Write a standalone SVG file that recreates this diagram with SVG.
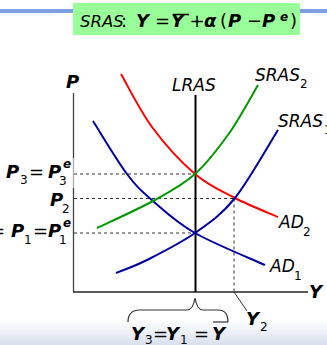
<svg xmlns="http://www.w3.org/2000/svg" width="327" height="345" viewBox="0 0 327 345">
<defs>
<linearGradient id="bg" x1="0" y1="0" x2="0" y2="1">
<stop offset="0" stop-color="#ffffff"/>
<stop offset="1" stop-color="#d8e0ed"/>
</linearGradient>
</defs>
<style>
text{font-family:"DejaVu Sans","Liberation Sans",sans-serif;fill:#000}
.bi{font-weight:bold;font-style:italic;font-size:18px}
.it{font-style:italic;font-size:17px}
.n{font-size:18px}
.sub{font-size:12px}
.sup{font-size:12px;font-weight:bold;font-style:italic}
.curve{fill:none;stroke-width:2}
.dash{stroke:#333;stroke-width:1;stroke-dasharray:3,3;fill:none}
</style>
<rect x="0" y="0" width="327" height="345" fill="#fff"/>
<rect x="0" y="320" width="327" height="25" fill="url(#bg)"/>
<g id="title">
<rect x="0" y="9" width="327" height="4" fill="#7d9ee0"/>
<rect x="73" y="3" width="227" height="32" fill="#99ff99"/>
<text x="80" y="27" class="it" style="font-size:16.5px">SRAS</text>
<text x="121" y="27" class="n">:</text>
<text x="136" y="27" class="bi">Y</text>
<text x="155" y="27" class="n">=</text>
<text x="171" y="27" class="bi">Y</text>
<line x1="173" y1="14.5" x2="189" y2="14.5" stroke="#000" stroke-width="1.5"/>
<text x="189.5" y="27" class="n">+</text>
<text x="204" y="27" class="bi">α</text>
<text x="220" y="27" class="n">(</text>
<text x="228" y="27" class="bi">P</text>
<text x="247" y="27" class="n">−</text>
<text x="262" y="27" class="bi">P</text>
<text x="280" y="21" class="sup">e</text>
<text x="290" y="27" class="n">)</text>
</g>
<g id="axes">
<line x1="73.5" y1="93" x2="73.5" y2="158" stroke="#444" stroke-width="1.3"/>
<line x1="73.5" y1="158" x2="73.5" y2="188" stroke="#aaa" stroke-width="1.3"/>
<line x1="73.5" y1="188" x2="73.5" y2="292" stroke="#444" stroke-width="1.3"/>
<line x1="73" y1="292" x2="308" y2="292" stroke="#222" stroke-width="1.3"/>
<text x="66" y="88" class="bi">P</text>
<text x="309" y="298" class="bi">Y</text>
</g>
<g id="guides">
<line class="dash" x1="74" y1="174" x2="195" y2="174"/>
<line class="dash" x1="74" y1="198.5" x2="234" y2="198.5"/>
<line class="dash" x1="74" y1="233" x2="195" y2="233"/>
<line class="dash" x1="234" y1="198.5" x2="234" y2="292"/>
</g>
<g id="LRAS">
<line x1="195.5" y1="95" x2="195.5" y2="292" stroke="#000" stroke-width="2"/>
<text x="172" y="91" class="it">LRAS</text>
</g>
<g id="AD2">
<path class="curve" stroke="#ff0000" d="M121,74 C126.2,82.8 139.7,110.3 152,127 C164.3,143.7 181.2,162.2 195,174 C208.8,185.8 221.2,190.8 235,198 C248.8,205.2 270.8,213.8 278,217"/>
<text x="279" y="228" class="it">AD</text>
<text x="303" y="236" class="sub">2</text>
</g>
<g id="AD1">
<path class="curve" stroke="#0000a0" d="M93,121 C98.7,129.8 117,160.7 127,174 C137,187.3 141.7,191.2 153,201 C164.3,210.8 176.3,222.3 195,233 C213.7,243.7 253.3,259.7 265,265"/>
<text x="270" y="272" class="it">AD</text>
<text x="294" y="280" class="sub">1</text>
</g>
<g id="SRAS1">
<path class="curve" stroke="#0000a0" d="M116,273 C121.2,270.8 133.8,266.7 147,260 C160.2,253.3 180.3,243.3 195,233 C209.7,222.7 221.2,215.2 235,198 C248.8,180.8 270.8,141.3 278,130"/>
<text x="278" y="127" class="it">SRAS</text>
<text x="324" y="134" class="sub">1</text>
</g>
<g id="SRAS2">
<path class="curve" stroke="#009900" d="M97,228 C106.3,223.5 136.7,210 153,201 C169.3,192 182.2,185.5 195,174 C207.8,162.5 219.5,146.8 230,132 C240.5,116.8 253.3,92.8 258,85"/>
<text x="255" y="81" class="it">SRAS</text>
<text x="300" y="88" class="sub">2</text>
</g>
<g id="price-labels">
<text x="6" y="178" class="bi">P</text>
<text x="20" y="184" class="sub">3</text>
<text x="29" y="178" class="n">=</text>
<text x="48" y="178" class="bi">P</text>
<text x="63" y="168" class="sup">e</text>
<text x="59" y="185" class="sub">3</text>
<text x="50" y="206" class="bi">P</text>
<text x="62" y="213" class="sub">2</text>
<text x="-10" y="237" class="n">=</text>
<text x="11" y="237" class="bi">P</text>
<text x="24" y="244" class="sub">1</text>
<text x="33" y="237" class="n">=</text>
<text x="48" y="237" class="bi">P</text>
<text x="63" y="227" class="sup">e</text>
<text x="59" y="244" class="sub">1</text>
</g>
<g id="output-labels">
<path d="M128,322 Q128,310 140,310 L187,310 Q193,310 195,298 Q197,310 203,310 L218,310 Q228,310 228,322" fill="none" stroke="#333" stroke-width="1.2"/>
<line x1="234" y1="292" x2="247" y2="311" stroke="#333" stroke-width="1"/>
<text x="246" y="325" class="bi">Y</text>
<text x="260" y="331" class="sub">2</text>
<text x="131" y="340" class="bi">Y</text>
<text x="145" y="344" class="sub">3</text>
<text x="153" y="340" class="n">=</text>
<text x="166" y="340" class="bi">Y</text>
<text x="180" y="344" class="sub">1</text>
<text x="194" y="340" class="n">=</text>
<text x="212" y="340" class="bi">Y</text>
<line x1="213" y1="322" x2="228" y2="322" stroke="#333" stroke-width="1.2"/>
</g>
</svg>
